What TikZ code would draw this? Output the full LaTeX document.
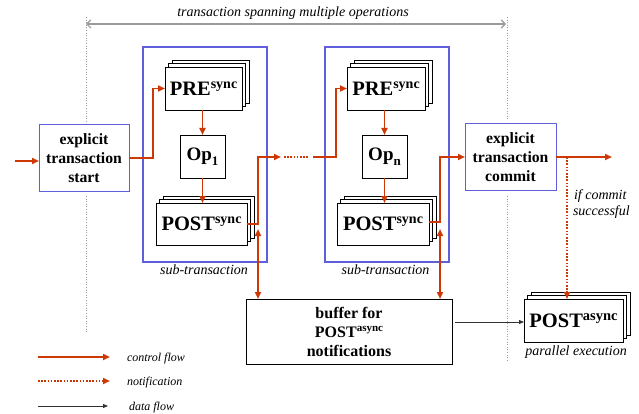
\documentclass[tikz,border=0pt]{standalone}
\usepackage{fontspec}
\setmainfont{Liberation Serif}
\usetikzlibrary{arrows.meta,shadows,calc}
\definecolor{ctrlred}{RGB}{206,56,4}
\definecolor{subblue}{RGB}{95,95,220}
\definecolor{spangray}{RGB}{155,155,155}
\definecolor{dataink}{RGB}{50,50,50}
\newcommand{\fsz}[2]{\fontsize{#1}{#2}\selectfont}
\begin{document}
\begin{tikzpicture}[x=1pt,y=-1pt,
  every node/.style={inner sep=0pt, outer sep=0pt},
  plainbox/.style={draw=black, line width=0.9pt, fill=white, align=center, font=\bfseries},
  txbox/.style={draw=subblue, line width=1pt, fill=white, align=center,
    font=\bfseries\fsz{15.7}{19}},
  subtx/.style={draw=subblue, line width=1.1pt},
  stackbox/.style={plainbox,
    general shadow={shadow xshift=7pt, shadow yshift=7pt, draw=black, fill=white, line width=0.9pt},
    general shadow={shadow xshift=3.5pt, shadow yshift=3.5pt, draw=black, fill=white, line width=0.9pt}},
  tip/.style={-{Triangle[length=7pt,width=6pt]}},
  ctrl/.style={draw=ctrlred, line width=1.8pt, tip},
  notif/.style={draw=ctrlred, line width=1.8pt, dash pattern=on 1.6pt off 1.6pt, tip},
  notifplain/.style={draw=ctrlred, line width=1.8pt, dash pattern=on 1.6pt off 1.6pt},
  data/.style={draw=dataink, line width=0.8pt, -{Triangle[length=5pt,width=4pt]}},
  span/.style={draw=spangray, line width=1.2pt,
    {Straight Barb[length=4pt,width=8pt]}-{Straight Barb[length=4pt,width=8pt]}},
  divider/.style={draw=spangray, line width=1pt, dash pattern=on 1pt off 1.6pt},
  lbl/.style={font=\itshape\fsz{14}{16}},
  legendlbl/.style={font=\itshape\fsz{12}{14}, anchor=base west}
]
\useasboundingbox (0,0) rectangle (639,414);

% transaction boundaries
\coordinate (d1a) at (86,17);  \coordinate (d1b) at (86,122);
\coordinate (d1c) at (86,196); \coordinate (d1d) at (86,332);
\coordinate (d2a) at (507,17); \coordinate (d2b) at (507,120);
\coordinate (d2c) at (507,196); \coordinate (d2d) at (507,360);
\draw[divider] (d1a) -- (d1b);
\draw[divider] (d1c) -- (d1d);
\draw[divider] (d2a) -- (d2b);
\draw[divider] (d2c) -- (d2d);
\draw[span] (86,24) coordinate (s1) -- (506,24) coordinate (s2);
\node[lbl, anchor=base] (spanlbl) at (293,17) {transaction spanning multiple operations};

% sub-transactions
\node[subtx, minimum width=124pt, minimum height=215pt] (sub1) at (205,154.5) {};
\node[subtx, minimum width=124pt, minimum height=215pt] (sub2) at (387,154.5) {};
\node[lbl, anchor=base] (sub1lbl) at (204,274) {sub-transaction};
\node[lbl, anchor=base] (sub2lbl) at (385.5,274) {sub-transaction};

% explicit transaction boxes
\node[txbox, minimum width=90pt, minimum height=66pt] (start) at (84,158) {explicit\\transaction\\start};
\node[txbox, minimum width=91pt, minimum height=66pt] (commit) at (510.5,157) {explicit\\transaction\\commit};

% first sub-transaction
\node[stackbox, minimum width=77pt, minimum height=43pt] (pre1) at (203.5,88.5)
  {\fsz{20.5}{24}PRE\raisebox{7pt}{\fsz{14}{14}sync}};
\node[plainbox, minimum width=45pt, minimum height=43pt] (op1) at (202.5,156.5)
  {\fsz{19}{22}Op\raisebox{-4.5pt}{\fsz{13}{13}1}};
\node[stackbox, minimum width=91pt, minimum height=42pt] (post1) at (201.5,224)
  {\fsz{20.5}{24}POST\raisebox{7pt}{\fsz{14}{14}sync}};

% last sub-transaction
\node[stackbox, minimum width=78pt, minimum height=43pt] (pren) at (386,88.5)
  {\fsz{20.5}{24}PRE\raisebox{7pt}{\fsz{14}{14}sync}};
\node[plainbox, minimum width=45pt, minimum height=43pt] (opn) at (384.5,156.5)
  {\fsz{19}{22}Op\raisebox{-4.5pt}{\fsz{13}{13}n}};
\node[stackbox, minimum width=92pt, minimum height=42pt] (postn) at (383,224)
  {\fsz{20.5}{24}POST\raisebox{7pt}{\fsz{14}{14}sync}};

% buffer and asynchronous post-processing
\node[plainbox, minimum width=206pt, minimum height=65pt, font=\bfseries\fsz{16}{19}] (buffer) at (349,331.5)
  {buffer for\\POST\raisebox{5.5pt}{\fsz{11}{11}async}\\notifications};
\node[stackbox, minimum width=99pt, minimum height=43pt] (pa) at (573.5,320.5)
  {\fsz{20.5}{24}POST\raisebox{7pt}{\fsz{14.5}{14.5}async}};
\node[lbl, anchor=base] (palbl) at (576,355) {parallel execution};

% control flow
\coordinate (in) at (15,161);
\draw[ctrl] (in) -- (in -| start.west);
\draw[ctrl] (start.east) -- ++(24,0) |- (pre1.west);
\draw[ctrl] (op1.north |- pre1.south) -- (op1.north);
\draw[ctrl] (op1.south) -- (op1.south |- post1.north);
\coordinate (j1) at (258,157);
\coordinate (g1) at (281,157);
\coordinate (g2) at (284,157);
\coordinate (g3) at (308,157);
\coordinate (g4) at (313,157);
\coordinate (j2) at (336,157);
\draw[ctrl] (post1.east) -| (j1) -- (g1);
\draw[notifplain] (g2) -- (g3);
\draw[ctrl] (g4) -- (j2) |- (pren.west);
\draw[ctrl] (opn.north |- pren.south) -- (opn.north);
\draw[ctrl] (opn.south) -- (opn.south |- postn.north);
\coordinate (j3) at (440,157);
\draw[ctrl] (postn.east |- 0,222) -| (j3) -- (commit.west);
\coordinate (out) at (612,157);
\draw[ctrl] (commit.east) -- (out);

% exchange with the buffer
\coordinate (b1) at (258,229);
\coordinate (b2) at (440,229);
\draw[ctrl, {Triangle[length=7pt,width=6pt]}-{Triangle[length=7pt,width=6pt]}] (b1) -- (b1 |- buffer.north);
\draw[ctrl, {Triangle[length=7pt,width=6pt]}-{Triangle[length=7pt,width=6pt]}] (b2) -- (b2 |- buffer.north);

% notification after commit
\coordinate (c1) at (567,157);
\draw[notif] (c1) -- (c1 |- pa.north);
\node[lbl, anchor=base west] (iflbl) at (574,199) {if commit};
\node[lbl, anchor=base west] (succlbl) at (573,215) {successful};

% data flow
\coordinate (df) at (455,322);
\draw[data] (df) -- (df -| pa.west);

% legend
\coordinate (l1a) at (38,357);  \coordinate (l1b) at (110,357);
\coordinate (l2a) at (38,381);  \coordinate (l2b) at (110,381);
\coordinate (l3a) at (38,406);  \coordinate (l3b) at (108,406);
\draw[ctrl] (l1a) -- (l1b);
\draw[notif] (l2a) -- (l2b);
\draw[data] (l3a) -- (l3b);
\node[legendlbl] (lg1) at (127,361) {control flow};
\node[legendlbl] (lg2) at (127,385) {notification};
\node[legendlbl] (lg3) at (129,410) {data flow};
\end{tikzpicture}
\end{document}
